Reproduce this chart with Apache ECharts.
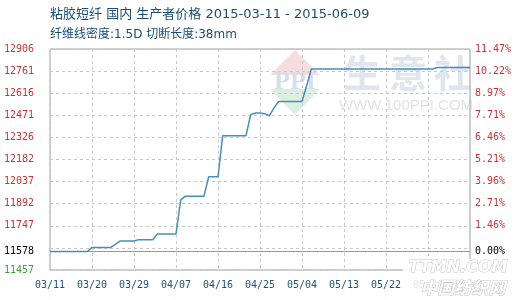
<!DOCTYPE html>
<html><head><meta charset="utf-8">
<script src="https://cdn.jsdelivr.net/npm/echarts@6/dist/echarts.min.js"></script>
<style>html,body{margin:0;padding:0;background:#fff}#c{width:520px;height:300px}</style>
</head><body><div id="c"></div>
<script>
const titleText = '粘胶短纤 国内 生产者价格 2015-03-11 - 2015-06-09';
const subtitleText = '纤维线密度:1.5D 切断长度:38mm';
const dates = [
 '03/11','03/12','03/13','03/14','03/15','03/16','03/17','03/18','03/19','03/20',
 '03/21','03/22','03/23','03/24','03/25','03/26','03/27','03/28','03/29','03/30',
 '03/31','04/01','04/02','04/03','04/04','04/05','04/06','04/07','04/08','04/09',
 '04/10','04/11','04/12','04/13','04/14','04/15','04/16','04/17','04/18','04/19',
 '04/20','04/21','04/22','04/23','04/24','04/25','04/26','04/27','04/28','04/29',
 '04/30','05/01','05/02','05/03','05/04','05/05','05/06','05/07','05/08','05/09',
 '05/10','05/11','05/12','05/13','05/14','05/15','05/16','05/17','05/18','05/19',
 '05/20','05/21','05/22','05/23','05/24','05/25','05/26','05/27','05/28','05/29',
 '05/30','05/31','06/01','06/02','06/03','06/04','06/05','06/06','06/07','06/08',
 '06/09'];
const prices = [
 11578,11578,11578,11578,11578,11578,11578,11578,11578,11605,
 11605,11605,11605,11605,11625,11647,11647,11647,11647,11656,
 11656,11656,11656,11693,11693,11693,11693,11693,11915,11941,
 11941,11941,11941,11941,12068,12068,12068,12338,12338,12338,
 12338,12338,12338,12475,12486,12486,12482,12468,12520,12562,
 12562,12562,12562,12562,12562,12665,12775,12775,12775,12775,
 12775,12775,12775,12775,12775,12775,12775,12775,12775,12775,
 12775,12775,12775,12775,12775,12775,12775,12775,12775,12775,
 12775,12775,12775,12785,12785,12785,12785,12785,12785,12785,
 12785];
const basePrice = 11578;
const axisMin = 11457, axisMax = 12906, axisStep = 144.9;
const leftTickLabels = ['11457','','11747','11892','12037','12182','12326','12471','12616','12761','12906'];
const rightTickLabels = ['','','1.46%','2.71%','3.96%','5.21%','6.46%','7.71%','8.97%','10.22%','11.47%'];
const baseLabelLeft = '11578', baseLabelRight = '0.00%';

const mono = "'DejaVu Sans Mono', monospace";
const titleFont = "'DejaVu Sans', 'Noto Sans CJK SC', sans-serif";
function tickIndex(v){ return Math.round((v - axisMin) / axisStep); }

const chart = echarts.init(document.getElementById('c'), null, {renderer:'canvas'});
chart.setOption({
  animation: false,
  backgroundColor: '#fff',
  title: {
    text: titleText, subtext: subtitleText, left: 50, top: 7, itemGap: 4, padding: 0,
    textStyle: {fontSize: 13, fontWeight: 'normal', color: '#1b4c74', fontFamily: titleFont, lineHeight: 16},
    subtextStyle: {fontSize: 12, color: '#1b4c74', fontFamily: titleFont, lineHeight: 15}
  },
  grid: {left: 50, right: 50, top: 49, bottom: 30, show: true, borderColor: '#a0a0a0', borderWidth: 1, containLabel: false},
  xAxis: {
    type: 'category', data: dates, boundaryGap: false,
    axisLine: {show: false}, axisTick: {show: false},
    axisLabel: {interval: 8, margin: 10, fontSize: 10, fontFamily: mono, color: '#1f5275'},
    splitLine: {show: true, interval: 8, lineStyle: {color: '#c8c8c8', type: [3, 3], width: 1}}
  },
  yAxis: [{
    type: 'value', min: axisMin, max: axisMax, interval: axisStep, position: 'left',
    axisLine: {show: false}, axisTick: {show: false},
    axisLabel: {margin: 16, fontSize: 10, fontFamily: mono, showMinLabel: true, showMaxLabel: true,
      formatter: v => leftTickLabels[tickIndex(v)] || '',
      color: v => tickIndex(v) === 0 ? '#3f9a3f' : '#c83434'},
    splitLine: {show: true, lineStyle: {color: '#c8c8c8', type: [3, 3], width: 1}}
  }, {
    type: 'value', min: axisMin, max: axisMax, interval: axisStep, position: 'right',
    axisLine: {show: false}, axisTick: {show: false}, splitLine: {show: false},
    axisLabel: {margin: 5, fontSize: 10, fontFamily: mono, color: '#c83434', showMinLabel: true, showMaxLabel: true,
      formatter: v => rightTickLabels[tickIndex(v)] || ''}
  }],
  graphic: [
    {type: 'polygon', z: -10, silent: true, shape: {points: [[295,50],[320,75],[270,75]]}, style: {fill: '#f7dede'}},
    {type: 'polygon', z: -10, silent: true, shape: {points: [[270,89],[320,89],[295,115]]}, style: {fill: '#dcefe0'}},
    {type: 'text', z: -9, silent: true, x: 295, y: 82, style: {text: 'PPI', fill: '#d5dfeb', font: "bold 26px 'Liberation Serif', serif", textAlign: 'center', textVerticalAlign: 'middle'}},
    {type: 'text', z: -9, silent: true, x: 362, y: 73, style: {text: '生', fill: '#dfe6ef', font: "bold 38px 'Noto Sans CJK SC'", textAlign: 'center', textVerticalAlign: 'middle'}},
    {type: 'text', z: -9, silent: true, x: 408, y: 73, style: {text: '意', fill: '#dfe6ef', font: "bold 38px 'Noto Sans CJK SC'", textAlign: 'center', textVerticalAlign: 'middle'}},
    {type: 'text', z: -9, silent: true, x: 453, y: 73, style: {text: '社', fill: '#dfe6ef', font: "bold 38px 'Noto Sans CJK SC'", textAlign: 'center', textVerticalAlign: 'middle'}},
    {type: 'text', z: -9, silent: true, x: 406, y: 106, style: {text: 'WWW.100PPI.COM', fill: '#e2e2e2', font: "15px 'Liberation Sans', sans-serif", textAlign: 'center', textVerticalAlign: 'middle'}},
    {type: 'rect', z: 100, silent: true, shape: {x: 403, y: 259, width: 114, height: 40}, style: {fill: 'rgba(255,255,255,0.85)'}},
    {type: 'text', z: 101, silent: true, x: 458, y: 268, style: {text: 'TTMN.COM', fill: '#ffffff', stroke: '#c4c4c4', lineWidth: 1, font: "italic bold 16px 'DejaVu Sans', sans-serif", textAlign: 'center', textVerticalAlign: 'middle'}},
    {type: 'text', z: 101, silent: true, x: 463, y: 288, style: {text: '中国纺织网', fill: '#ffffff', stroke: '#c4c4c4', lineWidth: 1, font: "italic bold 17px 'Noto Sans CJK SC'", textAlign: 'center', textVerticalAlign: 'middle'}}
  ],
  series: [{
    type: 'line', data: prices, yAxisIndex: 0, symbol: 'none', smooth: false,
    lineStyle: {color: '#4b8db8', width: 1.5}, z: 5,
    markLine: {
      silent: true, symbol: ['none', 'none'], animation: false,
      lineStyle: {color: '#999999', type: 'solid', width: 1},
      data: [
        {yAxis: basePrice, label: {show: true, position: 'start', distance: 16, formatter: baseLabelLeft, color: '#000', fontSize: 10, fontFamily: mono}},
        {yAxis: basePrice, label: {show: true, position: 'end', distance: 5, formatter: baseLabelRight, color: '#000', fontSize: 10, fontFamily: mono}}
      ]
    }
  }]
});
</script></body></html>
